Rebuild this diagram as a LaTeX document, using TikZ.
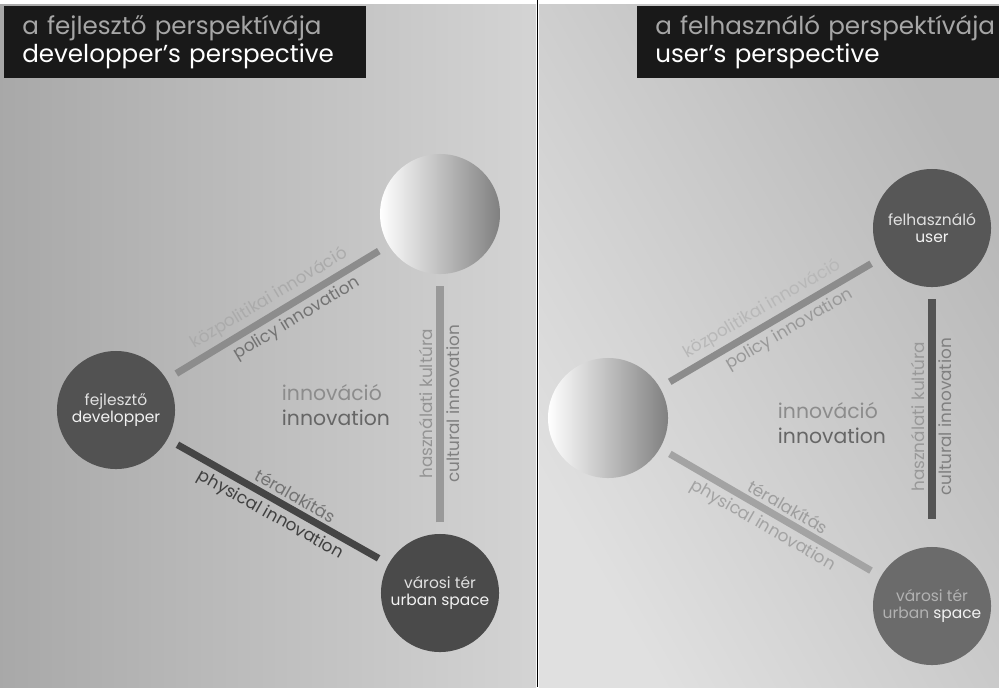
\documentclass[tikz,border=0pt]{standalone}
\usepackage{fontspec}
\setmainfont{Poppins}
\usetikzlibrary{positioning}

\begin{document}
\begin{tikzpicture}[x=0.025cm, y=-0.025cm,
 disc/.style={circle, minimum size=2.95cm, inner sep=0pt, align=center,
   fill=black!68, text=black!12, font=\fontsize{11}{12.5}\selectfont},
 blank/.style={circle, minimum size=3cm, inner sep=0pt,
   left color=white, right color=black!50},
 bar/.style={line width=5pt, shorten >=8pt, shorten <=8pt},
 up/.style={sloped, above, inner sep=2.5pt, font=\fontsize{12}{14}\selectfont},
 down/.style={sloped, below, inner sep=2.5pt, font=\fontsize{12}{14}\selectfont},
 titlebox/.style={rectangle, anchor=north west, fill=black!90,
   minimum width=9.05cm, minimum height=1.78cm, inner xsep=0.45cm,
   text width=8.15cm, align=left, font=\fontsize{17.5}{19.5}\selectfont},
 core/.style={anchor=west, align=left, font=\fontsize{14.5}{18}\selectfont}]

\useasboundingbox (0,0) rectangle (999,687);

% panels
\fill[white] (0,0) rectangle (999,687);
\fill[left color=black!34, right color=black!17] (0,4) rectangle (536,687);
\fill[left color=black!12, right color=black!28, shading angle=120] (539,4) rectangle (999,687);
\draw[line width=1.4pt] (537.5,0) -- (537.5,687);

% titles
\node[titlebox] (titleL) at (4,6)
 {\mbox{\textcolor{black!35}{a fejlesztő perspektívája}}\\\mbox{\textcolor{white}{developper's perspective}}};
\node[titlebox] (titleR) at (637,6)
 {\mbox{\textcolor{black!35}{a felhasználó perspektívája}}\\\mbox{\textcolor{white}{user's perspective}}};

% developer's side
\node[disc] (dev) at (116,410) {fejlesztő\\\textcolor{black!5}{developper}};
\node[blank] (topL) at (440,214) {};
\node[disc, fill=black!71] (urbL) at (440,593) {városi tér\\\textcolor{black!5}{urban space}};

\draw[bar, black!45] (dev) -- node[up, text=black!33]{közpolitikai innováció}
 node[down, pos=0.55, text=black!55]{policy innovation} (topL);
\draw[bar, black!73] (dev) -- node[up, pos=0.55, text=black!55]{téralakítás}
 node[down, text=black!75]{physical innovation} (urbL);
\draw[bar, black!40] (urbL) -- node[up, text=black!42]{használati kultúra}
 node[down, text=black!50]{cultural innovation} (topL);

\node[core] (innoL) at (277,405) {\textcolor{black!45}{innováció}\\\textcolor{black!60}{innovation}};

% user's side
\node[blank] (blankR) at (608,418) {};
\node[disc, fill=black!66] (user) at (932,228) {felhasználó\\\textcolor{black!5}{user}};
\node[disc, fill=black!58] (urbR) at (932,606) {\textcolor{black!30}{városi tér}\\\textcolor{black!30}{urban} \textcolor{black!5}{space}};

\draw[bar, black!45] (blankR) -- node[up, text=black!28]{közpolitikai innováció}
 node[down, pos=0.55, text=black!40]{policy innovation} (user);
\draw[bar, black!36] (blankR) -- node[up, pos=0.55, text=black!38]{téralakítás}
 node[down, text=black!36]{physical innovation} (urbR);
\draw[bar, black!67, shorten <=20pt] (urbR) -- node[up, text=black!40]{használati kultúra}
 node[down, text=black!50]{cultural innovation} (user);

\node[core] (innoR) at (773,423) {\textcolor{black!45}{innováció}\\\textcolor{black!60}{innovation}};

\end{tikzpicture}
\end{document}
